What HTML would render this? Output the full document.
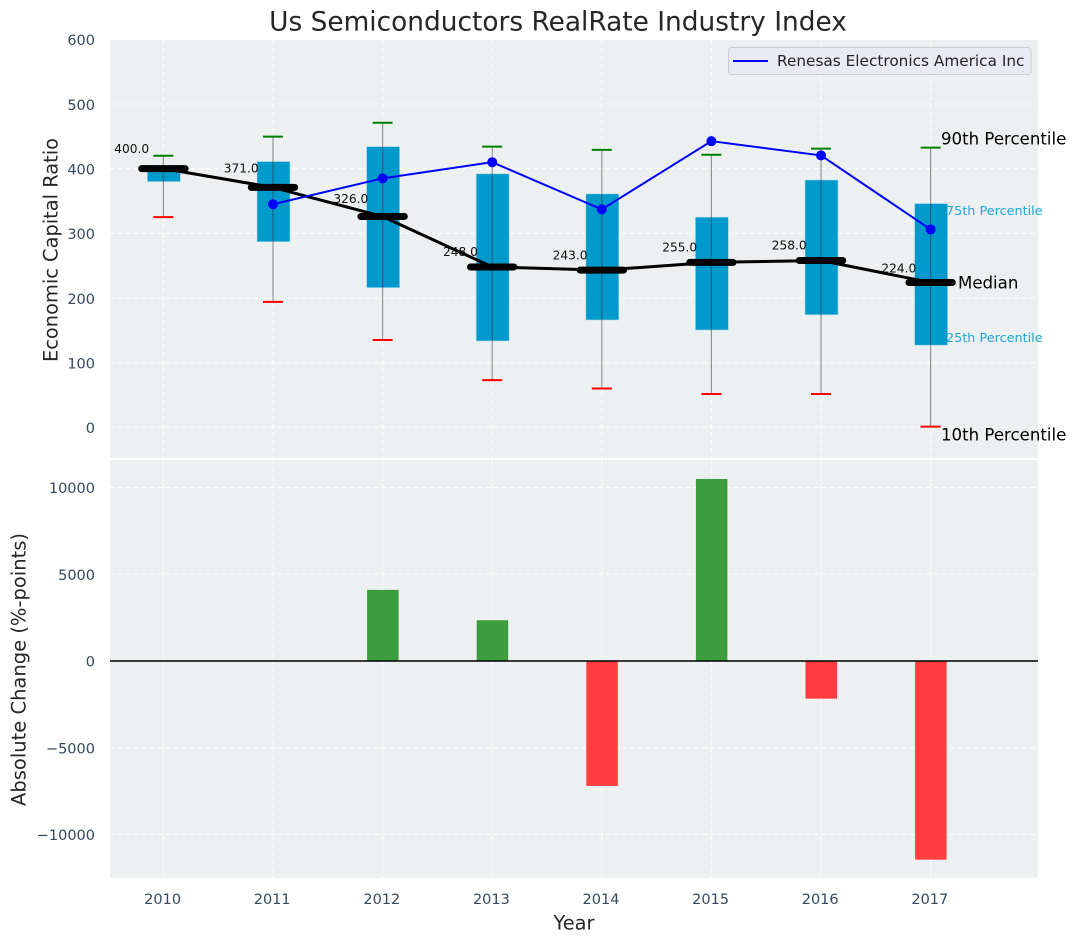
<!DOCTYPE html>
<html lang="en">
<head>
<meta charset="utf-8">
<title>Us Semiconductors RealRate Industry Index</title>
<style>
html,body{margin:0;padding:0;background:#fff;}
svg{display:block;font-family:"DejaVu Sans","Liberation Sans",sans-serif;}
</style>
</head>
<body>
<svg id="chart" width="1076" height="942" viewBox="0 0 1076 942" xmlns="http://www.w3.org/2000/svg"></svg>
<script>
const years = [2010, 2011, 2012, 2013, 2014, 2015, 2016, 2017];
const p10 = [325, 194, 135, 73, 60, 51.5, 51.5, 1];
const p25 = [380, 287, 216, 133.5, 166, 150.5, 174, 127];
const medians = [400, 371, 326, 248, 243, 255, 258, 224];
const p75 = [405, 411, 434, 392, 361, 325, 382.5, 346];
const p90 = [420, 449.5, 471, 434, 429, 421.5, 431, 432.5];
const companyYears = [2011, 2012, 2013, 2014, 2015, 2016, 2017];
const companyValues = [345, 385, 410, 337, 442.5, 420.5, 306];
const changeYears = [2012, 2013, 2014, 2015, 2016, 2017];
const changeValues = [4100, 2350, -7200, 10490, -2170, -11450];
const topTicks = [0, 100, 200, 300, 400, 500, 600];
const bottomTicks = [-10000, -5000, 0, 5000, 10000];
const bottomTickLabels = ['\u221210000', '\u22125000', '0', '5000', '10000'];

const svg = document.getElementById('chart');
const NS = 'http://www.w3.org/2000/svg';
const L = 110, R = 1038, T1 = 40, B1 = 458, T2 = 460, B2 = 878;
const xScale = v => 163.4 + (v - 2010) * 109.6;
const yTop = v => 427.3 - v * 0.6466;
const yBottom = v => 661 - v * 0.01735;

function add(tag, attrs, name, interact, text) {
  const el = document.createElementNS(NS, tag);
  for (const k in attrs) el.setAttribute(k, attrs[k]);
  
  
  if (text !== undefined) el.textContent = text;
  svg.appendChild(el);
  return el;
}
function label(x, y, text, size, fill, anchor, name, extra) {
  const a = Object.assign({x: x, y: y, 'font-size': size, fill: fill, 'text-anchor': anchor || 'start', 'dominant-baseline': 'central'}, extra || {});
  return add('text', a, name, false, text);
}

add('rect', {x: L, y: T1, width: R - L, height: B1 - T1, fill: '#ecf0f1'}, 'top-panel-background', false);
add('rect', {x: L, y: T2, width: R - L, height: B2 - T2, fill: '#ecf0f1'}, 'bottom-panel-background', false);

const grid = {stroke: '#ffffff', 'stroke-width': 1, 'stroke-dasharray': '5 3', 'stroke-opacity': 0.9};
years.forEach(y => {
  add('line', Object.assign({x1: xScale(y), x2: xScale(y), y1: T1, y2: B1}, grid), 'top-vertical-gridline-' + y, false);
  add('line', Object.assign({x1: xScale(y), x2: xScale(y), y1: T2, y2: B2}, grid), 'bottom-vertical-gridline-' + y, false);
  label(xScale(y) - 0.8, 900, String(y), 14.5, '#34495e', 'middle', 'x-tick-' + y);
});
topTicks.forEach(v => {
  if (v !== 600) add('line', Object.assign({x1: L, x2: R, y1: yTop(v), y2: yTop(v)}, grid), 'top-horizontal-gridline-' + v, false);
  label(95, yTop(v) + 1.8, String(v), 14.5, '#34495e', 'end', 'top-y-tick-' + v);
});
bottomTicks.forEach((v, i) => {
  add('line', Object.assign({x1: L, x2: R, y1: yBottom(v), y2: yBottom(v)}, grid), 'bottom-horizontal-gridline-' + v, false);
  label(95, yBottom(v) + 1.5, bottomTickLabels[i], 14.5, '#34495e', 'end', 'bottom-y-tick-' + v);
});

/* percentile boxes and whiskers */
years.forEach((y, i) => {
  const cx = xScale(y);
  add('rect', {x: cx - 16, y: yTop(p75[i]), width: 33, height: yTop(p25[i]) - yTop(p75[i]), fill: '#0099cc', stroke: '#a9d9ea', 'stroke-width': 0.6}, 'percentile-box-' + y, false);
  add('line', {x1: cx, x2: cx, y1: yTop(p90[i]), y2: yTop(p10[i]), stroke: '#333333', 'stroke-opacity': 0.5, 'stroke-width': 1.2}, 'whisker-' + y, false);
  add('line', {x1: cx - 10, x2: cx + 10, y1: yTop(p90[i]), y2: yTop(p90[i]), stroke: '#008000', 'stroke-width': 2}, 'p90-cap-' + y, false);
  add('line', {x1: cx - 10, x2: cx + 10, y1: yTop(p10[i]), y2: yTop(p10[i]), stroke: '#ff0000', 'stroke-width': 2}, 'p10-cap-' + y, false);
});

/* median line */
add('polyline', {points: years.map((y, i) => xScale(y) + ',' + yTop(medians[i])).join(' '), fill: 'none', stroke: '#000', 'stroke-width': 3}, 'median-line', false);
years.forEach((y, i) => {
  const cx = xScale(y), my = yTop(medians[i]);
  add('line', {x1: cx - 21.7, x2: cx + 21.7, y1: my, y2: my, stroke: '#000', 'stroke-width': 7, 'stroke-linecap': 'round'}, 'median-bar-' + y, false);
  label(cx - 49.2, yTop(medians[i] * 1.05 + 10.5), medians[i].toFixed(1), 12.2, '#111', 'start', 'median-value-' + y);
});

/* company series */
add('polyline', {points: companyYears.map((y, i) => xScale(y) + ',' + yTop(companyValues[i])).join(' '), fill: 'none', stroke: '#0000ff', 'stroke-width': 2}, 'company-line', false);
companyYears.forEach((y, i) => {
  add('circle', {cx: xScale(y), cy: yTop(companyValues[i]), r: 5, fill: '#0000ff'}, 'company-point-' + y, false);
});

/* annotations */
label(941, 139, '90th Percentile', 16.6, '#000', 'start', 'p90-annotation');
label(958, 283, 'Median', 16.6, '#000', 'start', 'median-annotation');
label(941, 435, '10th Percentile', 16.6, '#000', 'start', 'p10-annotation');
label(946, 211.5, '75th Percentile', 12.8, '#1fa8d6', 'start', 'p75-annotation');
label(946, 338.5, '25th Percentile', 12.8, '#1fa8d6', 'start', 'p25-annotation');

/* legend */
add('rect', {x: 728.5, y: 47.5, width: 302.5, height: 27, rx: 3, fill: '#eaeaf2', 'fill-opacity': 0.85, stroke: '#cccccc', 'stroke-width': 1}, 'legend-box', false);
add('line', {x1: 733, x2: 768, y1: 61, y2: 61, stroke: '#0000ff', 'stroke-width': 2}, 'legend-line', false);
label(777, 61, 'Renesas Electronics America Inc', 15.3, '#262626', 'start', 'legend-label');

/* absolute change bars */
changeYears.forEach((y, i) => {
  const v = changeValues[i], cx = xScale(y);
  const y0 = yBottom(0), y1 = yBottom(v);
  add('rect', {x: cx - 15.5, y: Math.min(y0, y1), width: 31.5, height: Math.abs(y1 - y0), fill: v >= 0 ? '#3b9d3e' : '#ff3d40'}, 'change-bar-' + y, false);
});
add('line', {x1: L, x2: R, y1: yBottom(0), y2: yBottom(0), stroke: '#000', 'stroke-width': 1.4}, 'zero-line', false);

/* titles */
label(558, 22, 'Us Semiconductors RealRate Industry Index', 26.4, '#262626', 'middle', 'chart-title');
label(574, 923, 'Year', 19.4, '#262626', 'middle', 'x-axis-title');
label(51, 250, 'Economic Capital Ratio', 19.4, '#262626', 'middle', 'top-y-axis-title', {transform: 'rotate(-90 51 250)'});
label(19, 669.5, 'Absolute Change (%-points)', 19.5, '#262626', 'middle', 'bottom-y-axis-title', {transform: 'rotate(-90 19 669.5)'});
</script>
</body>
</html>
